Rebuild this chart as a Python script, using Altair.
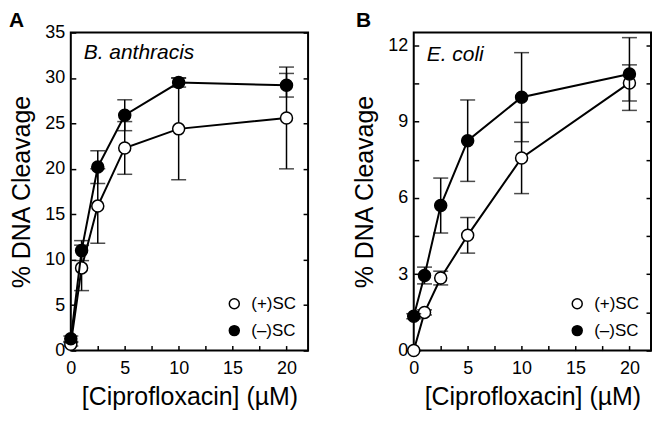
import altair as alt
import pandas as pd

# ---- data ----
conc = [0, 1, 2.5, 5, 10, 20]

ba_plus = [0.7, 9.1, 15.9, 22.3, 24.4, 25.6]
ba_plus_err = [0.2, 2.5, 4.1, 2.9, 5.6, 5.6]
ba_minus = [1.3, 11.0, 20.2, 25.9, 29.5, 29.2]
ba_minus_err = [0.3, 1.1, 1.8, 1.7, 0.5, 1.3]

ec_plus = [0.0, 1.5, 2.85, 4.53, 7.57, 10.52]
ec_plus_err = [0.0, 0.1, 0.27, 0.7, 1.4, 0.71]
ec_minus = [1.35, 2.95, 5.7, 8.25, 9.96, 10.87]
ec_minus_err = [0.1, 0.33, 1.08, 1.6, 1.75, 1.43]

legend_labels = ["(+)SC", "(–)SC"]
x_major = [0, 5, 10, 15, 20]
x_minor = [0, 2.5, 5, 7.5, 10, 12.5, 15, 17.5, 20]
ba_y_major = [0, 5, 10, 15, 20, 25, 30, 35]
ec_y_major = [0, 3, 6, 9, 12]
ec_y_minor = [0, 1.5, 3, 4.5, 6, 7.5, 9, 10.5, 12]

W, H = 238, 319
FONT = "Liberation Sans"


def frame(vals, errs):
    return pd.DataFrame({
        "conc": conc,
        "val": vals,
        "lo": [v - e for v, e in zip(vals, errs)],
        "hi": [v + e for v, e in zip(vals, errs)],
    })


def panel(plus, plus_err, minus, minus_err, ymax, ymajor, yminor, label, label_y, letter, letter_x):
    xs = alt.Scale(domain=[0, 22], nice=False, zero=False)
    ys = alt.Scale(domain=[0, ymax], nice=False, zero=False)
    dp = frame(plus, plus_err)
    dm = frame(minus, minus_err)

    def X(axis=None):
        return alt.X("conc:Q", scale=xs, axis=axis)

    def Y(field, axis=None):
        return alt.Y(field, type="quantitative", scale=ys, axis=axis)

    main_x_axis = alt.Axis(values=x_major, ticks=False, domain=False, labelPadding=9,
                           title="[Ciprofloxacin] (µM)", titlePadding=7, labelFlush=False)
    main_y_axis = alt.Axis(values=ymajor, ticks=False, domain=False, labelPadding=6,
                           title="% DNA Cleavage", titlePadding=10)
    tick_x_axis = alt.Axis(orient="top", offset=-H, values=x_minor, labels=False, domain=False,
                           tickSize=5, title=None)
    tick_y_left = alt.Axis(orient="right", offset=-W, values=yminor, labels=False, domain=False,
                           tickSize=5, title=None, minExtent=0)
    tick_y_right = alt.Axis(orient="left", offset=-W, values=yminor, labels=False, domain=False,
                            tickSize=5, title=None, minExtent=0)

    layers = []
    for i, (d, fill) in enumerate([(dp, "white"), (dm, "black")]):
        if i == 0:
            xa, ya = main_x_axis, main_y_axis
        else:
            xa, ya = tick_x_axis, tick_y_left
        line = alt.Chart(d).mark_line(color="black", strokeWidth=2).encode(x=X(xa), y=Y("val", ya))
        rule = alt.Chart(d).mark_rule(color="black", strokeWidth=1.5).encode(
            x=X(), y=Y("lo"), y2="hi:Q")
        cap_lo = alt.Chart(d).mark_tick(orient="horizontal", size=15, thickness=1.5, color="black").encode(
            x=X(), y=Y("lo"))
        cap_hi = alt.Chart(d).mark_tick(orient="horizontal", size=15, thickness=1.5, color="black").encode(
            x=X(), y=Y("hi", tick_y_right if i == 1 else None))
        pts = alt.Chart(d).mark_point(shape="circle", filled=True, fill=fill, stroke="black",
                                      strokeWidth=1.5, size=145, opacity=1).encode(x=X(), y=Y("val"))
        layers += [line, rule, cap_lo, cap_hi, pts]

    lx = W - 74
    for j, (lab, fill) in enumerate(zip(legend_labels, ["white", "black"])):
        ly = H - 47 + 27 * j
        ld = pd.DataFrame({"t": [lab]})
        layers.append(alt.Chart(ld).mark_point(shape="circle", filled=True, fill=fill, stroke="black",
                                               strokeWidth=1.5, size=100, opacity=1).encode(
            x=alt.value(lx), y=alt.value(ly)))
        layers.append(alt.Chart(ld).mark_text(align="left", baseline="middle", fontSize=17, font=FONT,
                                              color="black").encode(
            x=alt.value(lx + 17), y=alt.value(ly), text="t:N"))

    layers.append(alt.Chart(pd.DataFrame({"t": [label]})).mark_text(
        align="left", baseline="alphabetic", fontSize=21, fontStyle="italic", font=FONT, color="black").encode(
        x=alt.value(13), y=alt.value(label_y), text="t:N"))
    layers.append(alt.Chart(pd.DataFrame({"t": [letter]})).mark_text(
        align="left", baseline="alphabetic", fontSize=21, fontWeight="bold", font=FONT, color="black").encode(
        x=alt.value(letter_x), y=alt.value(-6), text="t:N"))

    return alt.layer(*layers).resolve_scale(x="shared", y="shared").resolve_axis(
        x="independent", y="independent").properties(width=W, height=H)


pa = panel(ba_plus, ba_plus_err, ba_minus, ba_minus_err, 35, ba_y_major, ba_y_major,
           "B. anthracis", 27, "A", -62)
pb = panel(ec_plus, ec_plus_err, ec_minus, ec_minus_err, 12.5, ec_y_major, ec_y_minor,
           "E. coli", 29, "B", -58)

chart = alt.hconcat(pa, pb, spacing=41).properties(padding=0).configure_view(
    stroke="black", strokeWidth=2).configure_axis(
    grid=False, labelFont=FONT, titleFont=FONT, labelFontSize=18, titleFontSize=25,
    labelColor="black", titleColor="black", titleFontWeight="normal", tickColor="black",
    tickWidth=1.5)

chart.save("out.html", embed_options={"renderer": "svg", "actions": False})
